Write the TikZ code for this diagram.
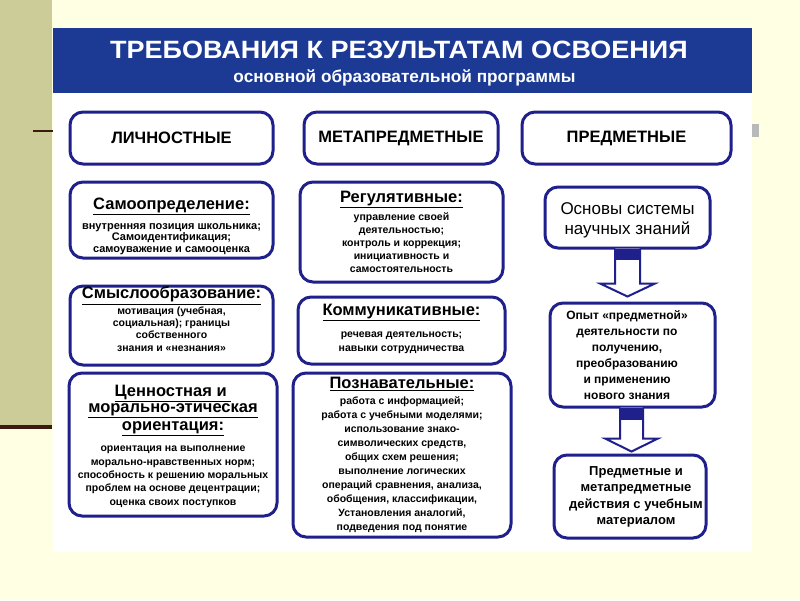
\documentclass[tikz,border=0pt]{standalone}
\usepackage{fontspec}
\setmainfont{Liberation Sans}
\usetikzlibrary{calc}
\definecolor{bgyellow}{HTML}{FFFFE3}
\definecolor{strip}{HTML}{CCCC99}
\definecolor{darkline}{HTML}{3D1A10}
\definecolor{hdrblue}{HTML}{1C3A94}
\definecolor{navy}{HTML}{20208C}
\newcommand\ttl[1]{{\fontsize{16.5}{18}\selectfont\underline{#1}}}
\begin{document}
\begin{tikzpicture}[x=1pt,y=-1pt,
  rbox/.style={draw=navy, line width=3pt, fill=white, rounded corners=13pt, inner sep=0pt},
  txt/.style={align=center, inner sep=0pt},
  catlbl/.style={font=\bfseries\fontsize{16.5}{18}\selectfont},
  body/.style={font=\bfseries\fontsize{10.5}{#1}\selectfont},
  blockarrow/.style={draw=navy, line width=2pt, fill=white, line join=miter},
  arrowneck/.style={fill=navy}
]
\useasboundingbox (0,0) rectangle (800,600);
\fill[bgyellow] (0,0) rectangle (800,600);
\fill[strip] (0,0) rectangle (52,426);
\fill[darkline] (0,425) rectangle (52,429);
\draw[darkline, line width=2.5pt] (33,131) -- (53,131);
\fill[gray!55] (752,124) rectangle (759,137);
\fill[white] (53,28) rectangle (752,552);
% header
\node[fill=hdrblue, minimum width=699pt, minimum height=65pt, anchor=north west, inner sep=0pt] (hdr) at (53,28) {};
\node[txt, text=white] (title) at (399,50)
  {\scalebox{1.08}[1]{\bfseries\fontsize{25}{28}\selectfont ТРЕБОВАНИЯ К РЕЗУЛЬТАТАМ ОСВОЕНИЯ}};
\node[txt, text=white, font=\bfseries\fontsize{17.2}{19}\selectfont] (subtitle) at (404.5,78)
  {основной образовательной программы};
% category row
\node[rbox, catlbl, minimum width=203pt, minimum height=52pt] (l1) at (171.5,138) {ЛИЧНОСТНЫЕ};
\node[rbox, catlbl, minimum width=194pt, minimum height=52pt] (m1) at (401,138) {МЕТАПРЕДМЕТНЫЕ};
\node[rbox, catlbl, minimum width=209pt, minimum height=52pt] (r1) at (626.5,138) {ПРЕДМЕТНЫЕ};
% left column
\node[rbox, minimum width=203pt, minimum height=76pt] (l2) at (171.5,220) {};
\node[txt, font=\bfseries\fontsize{11}{11.7}\selectfont] (l2t) at (171.5,226.5)
  {\ttl{Самоопределение:}\\[8pt]
   внутренняя позиция школьника;\\
   Самоидентификация;\\
   самоуважение и самооценка};
\node[rbox, minimum width=203pt, minimum height=79pt] (l3) at (171.5,325.5) {};
\node[txt, body=12.3] (l3t) at (171.5,319)
  {\ttl{Смыслообразование:}\\[1pt]
   мотивация (учебная,\\
   социальная); границы\\
   собственного\\
   знания и «незнания»};
\node[rbox, minimum width=208pt, minimum height=143pt] (l4) at (173,444.5) {};
\node[txt, body=13.3] (l4t) at (173,446)
  {\ttl{Ценностная и }\\[1pt]
   \ttl{морально-этическая}\\[3pt]
   \ttl{ориентация:}\\[8pt]
   ориентация на выполнение\\
   морально-нравственных норм;\\
   способность к решению моральных\\
   проблем на  основе децентрации;\\
   оценка своих поступков};
% middle column
\node[rbox, minimum width=203pt, minimum height=100pt] (m2) at (401.5,232) {};
\node[txt, body=13] (m2t) at (401.5,231.5)
  {\ttl{Регулятивные:}\\[4pt]
   управление своей\\
   деятельностью;\\
   контроль и коррекция;\\
   инициативность и\\
   самостоятельность};
\node[rbox, minimum width=207pt, minimum height=67pt] (m3) at (401.5,330.5) {};
\node[txt, body=14] (m3t) at (401.5,329)
  {\ttl{Коммуникативные:}\\[8pt]
   речевая деятельность;\\
   навыки сотрудничества};
\node[rbox, minimum width=218pt, minimum height=164pt] (m4) at (402,455) {};
\node[txt, body=14] (m4t) at (402,455)
  {\ttl{Познавательные:}\\[1.5pt]
   работа с информацией;\\
   работа с учебными моделями;\\
   использование знако-\\
   символических средств,\\
   общих схем решения;\\
   выполнение логических\\
   операций сравнения,  анализа,\\
   обобщения, классификации,\\
   Установления аналогий,\\
   подведения под понятие};
% right column
\node[rbox, minimum width=165pt, minimum height=61pt] (r2) at (627.5,217.5) {};
\node[txt, font=\fontsize{17}{20}\selectfont] (r2t) at (627.5,220)
  {Основы системы\\научных знаний};
\node[rbox, minimum width=165pt, minimum height=104pt] (r3) at (632.5,355) {};
\node[txt, font=\bfseries\fontsize{12}{16}\selectfont] (r3t) at (627,355)
  {Опыт «предметной»\\деятельности по\\получению,\\преобразованию\\и применению\\нового знания};
\node[rbox, minimum width=152pt, minimum height=83pt] (r4) at (630,496.5) {};
\node[txt, font=\bfseries\fontsize{13}{16.5}\selectfont] (r4t) at (636,497)
  {Предметные и\\метапредметные\\действия с учебным\\материалом};
% block arrows
\coordinate (a1s) at ($(r2.south)+(0,-1)$);
\coordinate (a1t) at ($(r3.north)+(0,-5)$);
\draw[blockarrow] ($(a1s)+(-12.5,0)$) -- ($(a1s|-a1t)+(-12.5,-13)$) -- ($(a1s|-a1t)+(-27.5,-13)$)
  -- (a1s|-a1t) -- ($(a1s|-a1t)+(27.5,-13)$) -- ($(a1s|-a1t)+(12.5,-13)$) -- ($(a1s)+(12.5,0)$);
\fill[arrowneck] ($(a1s)+(-12.5,0)$) rectangle ($(a1s)+(12.5,11)$);
\coordinate (a2s) at ($(r3.south)+(-1,-1)$);
\coordinate (a2t) at ($(r4.north)+(0,-2)$);
\draw[blockarrow] ($(a2s)+(-11.5,0)$) -- ($(a2s|-a2t)+(-11.5,-13)$) -- ($(a2s|-a2t)+(-26.5,-13)$)
  -- (a2s|-a2t) -- ($(a2s|-a2t)+(26.5,-13)$) -- ($(a2s|-a2t)+(11.5,-13)$) -- ($(a2s)+(11.5,0)$);
\fill[arrowneck] ($(a2s)+(-11.5,0)$) rectangle ($(a2s)+(11.5,12)$);
\end{tikzpicture}
\end{document}
